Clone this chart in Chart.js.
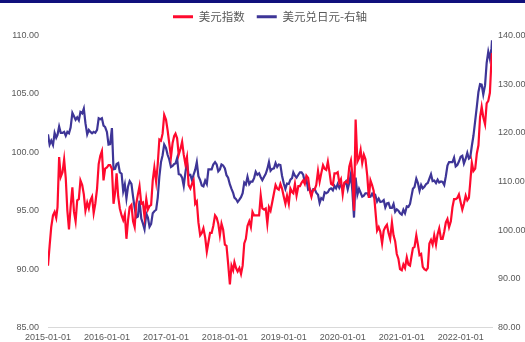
<!DOCTYPE html>
<html>
<head>
<meta charset="utf-8">
<script src="https://cdn.jsdelivr.net/npm/chart.js@4.4.1/dist/chart.umd.min.js"></script>
<style>
  html, body { margin: 0; padding: 0; background: #fff; }
  #wrap { width: 525px; height: 342px; position: relative; }
</style>
</head>
<body>
<div id="wrap"><canvas id="fx"></canvas></div>
<script>
// ── Data ────────────────────────────────────────────────────
// samples on the 1st, 11th and 21st of each month, last one 2022-07-14
const seriesNames = ['美元指数', '美元兑日元-右轴'];
const yearTicks = ['2015-01-01', '2016-01-01', '2017-01-01', '2018-01-01',
                   '2019-01-01', '2020-01-01', '2021-01-01', '2022-01-01'];
const leftTicks = [85, 90, 95, 100, 105, 110];
const rightTicks = [80, 90, 100, 110, 120, 130, 140];

const dxy = [
  // 2015
  90.3, 92.0, 93.6, 94.6, 94.9, 94.4, 95.3, 99.6, 97.9, 98.3, 99.4, 97.8,
  95.0, 93.4, 95.3, 97.0, 94.9, 94.1, 95.9, 96.0, 97.6, 97.2, 96.4, 95.0,
  95.7, 95.2, 95.9, 96.2, 94.8, 95.6, 96.9, 99.0, 99.7, 100.1, 97.6, 98.6,
  // 2016
  98.7, 98.9, 98.9, 98.6, 95.6, 96.6, 98.2, 96.2, 95.2, 94.6, 94.2, 94.7,
  92.6, 94.2, 95.3, 95.5, 94.1, 93.6, 95.6, 96.4, 97.1, 95.6, 95.7, 94.5,
  96.0, 95.1, 95.4, 95.5, 97.6, 98.7, 97.5, 99.0, 101.1, 101.0, 101.6, 103.2,
  // 2017
  102.8, 101.9, 100.8, 99.6, 100.8, 101.4, 101.6, 101.2, 99.8, 100.3, 100.9, 99.8,
  99.0, 99.6, 97.2, 96.9, 97.3, 97.6, 95.6, 95.8, 94.0, 92.9, 93.1, 93.5,
  92.7, 91.5, 92.3, 93.1, 93.1, 93.7, 94.6, 94.4, 93.9, 92.9, 93.9, 93.4,
  // 2018
  92.1, 92.0, 90.5, 88.7, 90.3, 89.9, 90.6, 90.1, 89.8, 90.1, 89.6, 90.3,
  92.2, 92.6, 93.7, 94.1, 93.6, 94.9, 94.6, 94.6, 94.6, 94.6, 96.3, 95.2,
  95.1, 95.2, 93.9, 95.3, 95.0, 95.7, 96.5, 97.2, 96.9, 96.8, 97.3, 96.9,
  // 2019
  96.2, 95.6, 96.3, 95.6, 96.9, 96.6, 96.5, 97.3, 96.3, 97.1, 97.1, 97.4,
  97.6, 97.3, 98.0, 97.8, 96.7, 96.2, 96.8, 96.8, 97.2, 98.4, 97.5, 98.2,
  98.9, 98.6, 98.5, 99.2, 98.3, 97.3, 97.2, 98.2, 98.2, 98.3, 97.4, 97.7,
  // 2020
  96.4, 97.4, 97.5, 97.4, 98.8, 99.3, 98.1, 95.0, 102.8, 99.2, 99.5, 100.2,
  99.1, 99.8, 99.4, 98.0, 96.1, 97.6, 97.2, 96.7, 95.1, 93.3, 93.6, 93.2,
  92.2, 93.3, 93.6, 93.8, 93.1, 92.6, 94.0, 92.9, 92.4, 91.3, 90.9, 90.0,
  // 2021
  89.9, 90.4, 90.1, 91.0, 90.4, 90.3, 91.0, 91.8, 91.9, 92.9, 92.1, 91.2,
  91.3, 90.2, 90.0, 89.9, 90.1, 92.2, 92.5, 92.1, 92.9, 92.1, 93.0, 93.5,
  92.6, 92.6, 93.2, 94.0, 94.3, 93.6, 94.1, 95.3, 96.0, 96.0, 96.1, 96.4,
  // 2022
  95.7, 95.1, 95.6, 96.3, 95.9, 96.1, 97.4, 99.1, 98.4, 98.6, 99.9, 100.6,
  103.0, 103.9, 103.0, 102.4, 104.2, 104.4, 105.1, 108.0, 108.5
];

const usdjpy = [
  // 2015
  119.7, 117.6, 118.4, 117.5, 120.0, 119.0, 119.6, 121.3, 120.0, 120.0, 120.2, 119.4,
  120.2, 119.9, 121.1, 124.1, 123.4, 122.7, 123.2, 122.6, 124.3, 124.0, 125.0, 122.0,
  119.7, 120.6, 120.2, 119.9, 120.2, 120.0, 120.6, 123.0, 122.8, 123.0, 121.5, 121.2,
  // 2016
  120.2, 117.6, 117.7, 121.0, 112.5, 112.6, 113.6, 113.8, 111.9, 111.6, 108.0, 109.4,
  106.5, 109.0, 110.1, 109.5, 106.9, 104.6, 102.6, 102.8, 106.1, 102.4, 101.4, 100.2,
  103.4, 102.6, 100.7, 101.3, 103.5, 103.9, 104.2, 106.7, 111.0, 114.0, 115.4, 117.6,
  // 2017
  116.9, 115.5, 114.6, 113.0, 113.2, 113.6, 113.7, 114.8, 111.5, 111.4, 110.8, 109.1,
  111.8, 114.0, 111.3, 111.4, 110.3, 111.4, 112.4, 114.0, 111.1, 110.3, 109.2, 109.0,
  110.2, 109.5, 112.5, 112.5, 112.5, 113.5, 114.0, 113.5, 112.1, 112.5, 113.5, 113.3,
  // 2018
  112.7, 111.3, 110.8, 109.4, 108.5, 107.7, 106.7, 106.4, 105.8, 106.3, 106.8, 107.6,
  109.8, 109.4, 111.0, 109.5, 110.0, 110.0, 110.7, 112.0, 111.4, 111.7, 110.9, 110.3,
  111.0, 111.6, 112.6, 114.0, 112.2, 112.6, 112.7, 113.8, 113.0, 113.5, 113.4, 111.2,
  // 2019
  109.6, 108.5, 109.6, 109.5, 110.4, 110.7, 111.9, 111.2, 110.8, 111.4, 111.9, 111.9,
  111.4, 109.9, 110.5, 108.3, 108.5, 107.3, 108.4, 108.5, 107.7, 107.3, 105.6, 106.6,
  106.3, 107.8, 107.6, 107.8, 108.4, 108.6, 108.2, 109.1, 108.6, 109.5, 108.7, 109.4,
  // 2020
  108.7, 109.5, 110.0, 108.4, 109.8, 111.6, 108.0, 102.6, 110.8, 107.3, 108.5, 107.7,
  106.9, 107.1, 107.6, 107.6, 107.0, 106.9, 107.5, 106.9, 107.2, 105.9, 106.5, 105.8,
  105.9, 106.2, 104.7, 105.5, 105.6, 104.6, 104.6, 105.4, 103.8, 104.3, 104.0, 103.5,
  // 2021
  103.2, 104.2, 103.5, 104.9, 104.8, 105.4, 106.8, 108.5, 108.9, 110.6, 109.7, 108.1,
  109.3, 108.6, 108.9, 109.5, 109.7, 110.6, 111.5, 110.1, 110.2, 109.7, 110.4, 109.8,
  110.0, 109.9, 109.3, 111.1, 113.3, 114.0, 114.0, 114.0, 114.9, 113.1, 113.4, 114.1,
  // 2022
  115.1, 115.3, 113.7, 114.7, 115.9, 114.7, 114.9, 117.3, 119.4, 122.5, 125.4, 128.4,
  130.0, 129.9, 127.9, 129.8, 134.4, 136.7, 135.2, 137.4, 139.0
];

// ── Dates → day number since 2015-01-01 ─────────────────────
function dayNum(s) {
  const [y, m, d] = s.split('-').map(Number);
  return Math.round((Date.UTC(y, m - 1, d) - Date.UTC(2015, 0, 1)) / 864e5);
}

const dates = [];
for (let y = 2015; y <= 2022; y++) {
  for (let m = 1; m <= 12; m++) {
    for (const d of [1, 11, 21]) {
      const s = `${y}-${String(m).padStart(2, '0')}-${String(d).padStart(2, '0')}`;
      if (s <= '2022-07-11') dates.push(s);
    }
  }
}
dates.push('2022-07-14');

const xs = dates.map(dayNum);
const ptsDxy = dxy.map((v, i) => ({ x: xs[i], y: v }));
const ptsJpy = usdjpy.map((v, i) => ({ x: xs[i], y: v }));

// ── Chart ───────────────────────────────────────────────────
const tickFont = { family: 'Liberation Sans', size: 9 };
const grey = '#595959';

const topBar = {
  id: 'topBar',
  afterDraw(chart) {
    const c = chart.ctx;
    c.save();
    c.fillStyle = '#10107c';
    c.fillRect(0, 0, chart.width, 3);
    c.restore();
  }
};

// extra room under the legend
const legendGap = {
  id: 'legendGap',
  beforeLayout(chart) {
    const lg = chart.legend;
    if (!lg || lg._gapPatched) return;
    const fit = lg.fit;
    lg.fit = function () { fit.call(this); this.height += 3; };
    lg._gapPatched = true;
  }
};

new Chart(document.getElementById('fx'), {
  type: 'line',
  data: {
    datasets: [
      { label: seriesNames[0], data: ptsDxy, yAxisID: 'y', borderColor: '#ff0a2e', backgroundColor: '#ff0a2e',
        borderWidth: 2.2, pointRadius: 0, tension: 0 },
      { label: seriesNames[1], data: ptsJpy, yAxisID: 'y1', borderColor: '#3e3597', backgroundColor: '#3e3597',
        borderWidth: 2.2, pointRadius: 0, tension: 0 }
    ]
  },
  options: {
    responsive: true, maintainAspectRatio: false, animation: false,
    layout: { autoPadding: false, padding: { top: -1, bottom: -3, left: 0, right: 0 } },
    plugins: {
      tooltip: { enabled: false },
      legend: {
        position: 'top', fullSize: false,
        labels: {
          boxWidth: 20, boxHeight: 3, padding: 12, color: grey,
          font: { family: 'Noto Sans CJK SC', size: 11.5 },
          generateLabels: (chart) => Chart.defaults.plugins.legend.labels.generateLabels(chart)
            .map(l => ({ ...l, lineWidth: 0 }))
        }
      }
    },
    scales: {
      x: {
        type: 'linear', min: 0, max: dayNum('2022-07-14'),
        grid: { display: false, drawTicks: false },
        border: { display: true, color: '#d9d9d9' },
        afterBuildTicks: (ax) => { ax.ticks = yearTicks.map(s => ({ value: dayNum(s) })); },
        afterFit: (ax) => { ax.height = 13; },
        ticks: {
          autoSkip: false, maxRotation: 0, padding: 5, color: grey, font: tickFont,
          callback: (v) => yearTicks.find(s => dayNum(s) === v) || ''
        }
      },
      y: {
        position: 'left', min: 85, max: 110,
        grid: { display: false, drawTicks: false }, border: { display: false },
        afterBuildTicks: (ax) => { ax.ticks = leftTicks.map(v => ({ value: v })); },
        afterFit: (ax) => { ax.width = 48; },
        ticks: { padding: 9, color: grey, font: tickFont, callback: (v) => v.toFixed(2) }
      },
      y1: {
        position: 'right', min: 80, max: 140,
        grid: { display: false, drawTicks: false }, border: { display: false },
        afterBuildTicks: (ax) => { ax.ticks = rightTicks.map(v => ({ value: v })); },
        afterFit: (ax) => { ax.width = 33; },
        ticks: { padding: 6, color: grey, font: tickFont, callback: (v) => v.toFixed(2) }
      }
    }
  },
  plugins: [topBar, legendGap]
});
</script>
</body>
</html>
